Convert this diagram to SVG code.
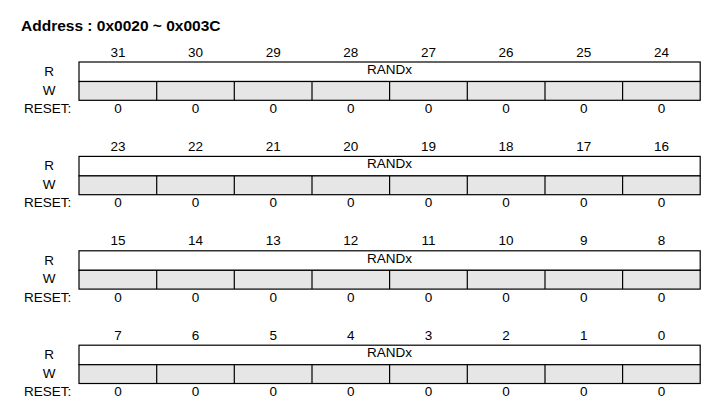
<svg xmlns="http://www.w3.org/2000/svg" width="715" height="407" viewBox="0 0 715 407">
<defs>
<style>
text{font-family:"Liberation Sans",Arial,sans-serif;font-size:13.5px;fill:#000}
.t{font-weight:bold;font-size:15.5px}
.c{text-anchor:middle}
.r{fill:#fff;stroke:#000;stroke-width:1.2}
.w{fill:#e6e6e6;stroke:#000;stroke-width:1.2}
.d{stroke:#000;stroke-width:1.2}
</style>
<g id="cols">
<line class="d" x1="156.7" y1="81.5" x2="156.7" y2="100.3"/>
<line class="d" x1="234.3" y1="81.5" x2="234.3" y2="100.3"/>
<line class="d" x1="312" y1="81.5" x2="312" y2="100.3"/>
<line class="d" x1="389.6" y1="81.5" x2="389.6" y2="100.3"/>
<line class="d" x1="467.3" y1="81.5" x2="467.3" y2="100.3"/>
<line class="d" x1="545" y1="81.5" x2="545" y2="100.3"/>
<line class="d" x1="622.6" y1="81.5" x2="622.6" y2="100.3"/>
</g>
<g id="zeros">
<text class="c" x="117.9" y="113">0</text><text class="c" x="195.5" y="113">0</text><text class="c" x="273.2" y="113">0</text><text class="c" x="350.8" y="113">0</text><text class="c" x="428.5" y="113">0</text><text class="c" x="506.1" y="113">0</text><text class="c" x="583.8" y="113">0</text><text class="c" x="661.4" y="113">0</text>
</g>
<g id="blk">
<text class="c" x="49" y="76">R</text>
<text class="c" x="49" y="94.5">W</text>
<text x="24" y="113">RESET:</text>
<rect class="r" x="79" y="62" width="621.2" height="19.5"/>
<rect class="w" x="79" y="81.5" width="621.2" height="18.8"/>
<use href="#cols"/>
<use href="#zeros"/>
<text class="c" x="389.6" y="74">RANDx</text>
</g>
</defs>
<text class="t" x="21" y="31">Address : 0x0020 ~ 0x003C</text>
<g id="reg31_24">
<use href="#blk"/>
<text class="c" x="117.9" y="56.5">31</text><text class="c" x="195.5" y="56.5">30</text><text class="c" x="273.2" y="56.5">29</text><text class="c" x="350.8" y="56.5">28</text><text class="c" x="428.5" y="56.5">27</text><text class="c" x="506.1" y="56.5">26</text><text class="c" x="583.8" y="56.5">25</text><text class="c" x="661.4" y="56.5">24</text>
</g>
<g id="reg23_16" transform="translate(0,94.4)">
<use href="#blk"/>
<text class="c" x="117.9" y="56.5">23</text><text class="c" x="195.5" y="56.5">22</text><text class="c" x="273.2" y="56.5">21</text><text class="c" x="350.8" y="56.5">20</text><text class="c" x="428.5" y="56.5">19</text><text class="c" x="506.1" y="56.5">18</text><text class="c" x="583.8" y="56.5">17</text><text class="c" x="661.4" y="56.5">16</text>
</g>
<g id="reg15_8" transform="translate(0,188.8)">
<use href="#blk"/>
<text class="c" x="117.9" y="56.5">15</text><text class="c" x="195.5" y="56.5">14</text><text class="c" x="273.2" y="56.5">13</text><text class="c" x="350.8" y="56.5">12</text><text class="c" x="428.5" y="56.5">11</text><text class="c" x="506.1" y="56.5">10</text><text class="c" x="583.8" y="56.5">9</text><text class="c" x="661.4" y="56.5">8</text>
</g>
<g id="reg7_0" transform="translate(0,283.2)">
<use href="#blk"/>
<text class="c" x="117.9" y="56.5">7</text><text class="c" x="195.5" y="56.5">6</text><text class="c" x="273.2" y="56.5">5</text><text class="c" x="350.8" y="56.5">4</text><text class="c" x="428.5" y="56.5">3</text><text class="c" x="506.1" y="56.5">2</text><text class="c" x="583.8" y="56.5">1</text><text class="c" x="661.4" y="56.5">0</text>
</g>
</svg>
